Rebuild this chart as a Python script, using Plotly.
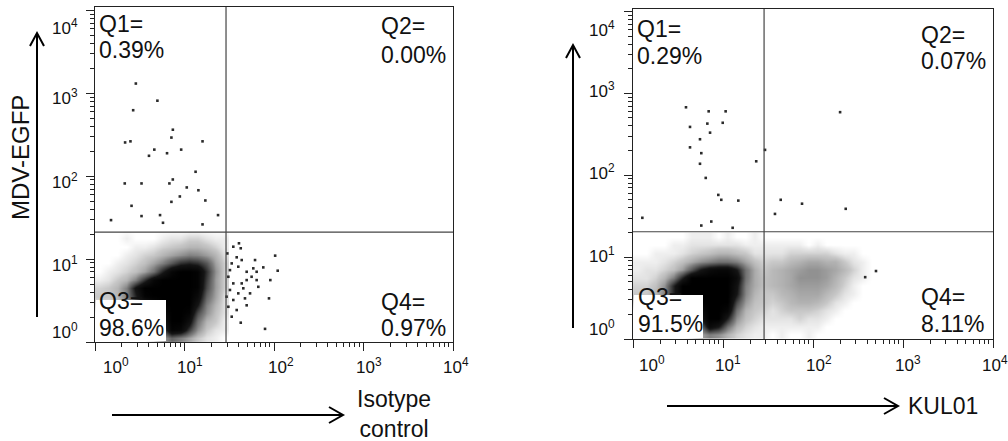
import numpy as np
import plotly.graph_objects as go

W, H = 1008, 441
FONT = "Liberation Sans, Arial, sans-serif"

# ---------------- data ----------------
# Left panel (Isotype control vs MDV-EGFP): sparse events
left_q1_x = [2.86, 4.98, 2.67, 7.41, 7.14, 2.17, 2.49, 15.9, 4.60, 9.18, 6.38, 4.01, 13.3, 2.15,
             3.31, 6.78, 7.40, 10.6, 14.3, 8.87, 7.14, 17.1, 2.56, 3.31, 5.33, 23.7, 1.51, 5.75, 15.9]
left_q1_y = [1309, 813, 624, 363, 292, 255, 263, 263, 209, 209, 189, 176, 113, 81.7,
             81.7, 81.7, 91.2, 73.1, 67.6, 56.9, 49.0, 50.9, 43.9, 33.0, 33.9, 33.9, 29.5, 27.4, 26.2]
left_q4_x = [40.6, 42.5, 103, 110, 38.3, 58.7, 49.5, 43.6, 39.9, 35.1, 49.5, 38.3, 42.5, 79.4,
             87.9, 91.0, 66.8, 32.2, 30.9, 35.1, 33.7, 49.5, 56.2, 64.0, 45.4, 54.0, 32.2, 30.9,
             33.7, 39.9, 30.1, 35.1, 75.9, 61.4, 43.6, 29.5, 47.4, 64.0]
left_q4_y = [15.5, 13.5, 11.0, 7.24, 10.5, 7.73, 5.58, 5.09, 3.86, 3.21, 2.77, 2.43, 1.71, 1.44,
             3.36, 5.58, 4.63, 7.36, 6.12, 5.09, 8.87, 7.03, 6.12, 7.03, 4.44, 3.86, 4.24, 2.66,
             2.02, 8.09, 11.7, 14.1, 7.94, 9.73, 9.73, 3.52, 3.36, 5.58]
# Left panel dense population: relative event density per 0.1-decade cell
# (rows listed from top, 10^1.3-10^1.4, down to 10^0-10^0.1; columns 10^0 ... 10^1.5)
left_density = [
    [0, 0, 0, 0, 0, 0, 0, 0, 0, 0, 0, 0, 0, 0, 0],
    [0, 0, 0, 0.03, 0, 0, 0, 0.03, 0.05, 0.05, 0.08, 0.08, 0.05, 0.03, 0.03],
    [0, 0, 0, 0, 0.03, 0.03, 0.05, 0.08, 0.1, 0.12, 0.15, 0.15, 0.12, 0.08, 0.03],
    [0, 0, 0, 0.03, 0.05, 0.08, 0.1, 0.15, 0.2, 0.25, 0.3, 0.28, 0.22, 0.15, 0.05],
    [0, 0, 0.03, 0.05, 0.08, 0.12, 0.2, 0.3, 0.45, 0.6, 0.65, 0.6, 0.45, 0.2, 0.08],
    [0, 0.03, 0.05, 0.08, 0.12, 0.2, 0.35, 0.65, 0.9, 1, 1, 0.95, 0.6, 0.25, 0.08],
    [0.03, 0.05, 0.1, 0.15, 0.3, 0.6, 0.9, 1, 1, 1, 1, 0.95, 0.55, 0.22, 0.08],
    [0.08, 0.1, 0.15, 0.3, 0.75, 1, 1, 1, 1, 1, 1, 0.95, 0.5, 0.22, 0.08],
    [0.1, 0.1, 0.15, 0.3, 0.65, 0.95, 1, 1, 1, 1, 1, 0.85, 0.4, 0.2, 0.05],
    [0.05, 0.05, 0.1, 0.2, 0.35, 0.55, 0.8, 1, 1, 1, 1, 0.7, 0.3, 0.15, 0.05],
    [0, 0, 0, 0.05, 0.1, 0.25, 0.45, 0.85, 1, 1, 0.95, 0.5, 0.25, 0.12, 0.05],
    [0, 0, 0, 0, 0.05, 0.1, 0.25, 0.7, 1, 1, 0.8, 0.35, 0.15, 0.1, 0.03],
    [0, 0, 0, 0, 0, 0.05, 0.1, 0.45, 0.95, 0.9, 0.55, 0.25, 0.1, 0.05, 0.03],
    [0, 0, 0, 0, 0, 0, 0.05, 0.2, 0.4, 0.3, 0.2, 0.1, 0.05, 0.03, 0],
]
left_gate_x, left_gate_y = 29.1, 21.1
left_labels = ["Q1=<br>0.39%", "Q2=<br>0.00%", "Q3=<br>98.6%", "Q4=<br>0.97%"]

# Right panel (KUL01 vs MDV-EGFP)
right_q1_x = [3.88, 6.93, 10.7, 4.30, 6.70, 9.93, 7.18, 5.55, 4.30, 5.74, 5.55, 23.4, 6.43,
              8.87, 9.57, 14.8, 1.27, 5.74, 7.41, 12.8]
right_q1_y = [676, 603, 603, 389, 427, 437, 331, 275, 219, 186, 138, 148, 92.7,
              57.5, 50.1, 49.0, 30.2, 24.3, 27.2, 22.8]
right_q2_x = [200, 43.8, 75.5, 37.8, 231, 29.3]
right_q2_y = [589, 50.1, 44.9, 33.7, 38.9, 204]
right_q4_x = [380, 501]
right_q4_y = [5.69, 6.76]
# rows from 10^1.2-10^1.3 down to 10^0-10^0.1; columns 10^0 ... 10^2.8
right_density = [
    [0, 0, 0, 0, 0, 0, 0.03, 0.03, 0.03, 0, 0.03, 0, 0, 0.03, 0,
     0, 0, 0, 0, 0, 0, 0, 0, 0, 0, 0, 0, 0],
    [0, 0, 0, 0, 0.03, 0.03, 0.05, 0.05, 0.05, 0.05, 0.05, 0.05, 0.03, 0.03, 0.03,
     0.03, 0.03, 0.03, 0.03, 0, 0.03, 0, 0, 0, 0, 0, 0, 0],
    [0, 0, 0.03, 0.03, 0.03, 0.05, 0.08, 0.1, 0.12, 0.15, 0.15, 0.12, 0.1, 0.05, 0.05,
     0.05, 0.05, 0.08, 0.08, 0.08, 0.08, 0.08, 0.05, 0.03, 0.03, 0, 0, 0],
    [0.03, 0.03, 0.03, 0.05, 0.08, 0.12, 0.18, 0.25, 0.3, 0.35, 0.35, 0.3, 0.2, 0.12, 0.08,
     0.1, 0.1, 0.14, 0.16, 0.19, 0.19, 0.16, 0.16, 0.1, 0.05, 0.03, 0, 0],
    [0.03, 0.05, 0.05, 0.08, 0.12, 0.22, 0.45, 0.7, 0.85, 0.9, 0.9, 0.7, 0.35, 0.18, 0.1,
     0.14, 0.16, 0.19, 0.22, 0.25, 0.25, 0.22, 0.19, 0.14, 0.08, 0.03, 0, 0],
    [0.05, 0.05, 0.08, 0.15, 0.3, 0.65, 1, 1, 1, 1, 1, 0.85, 0.35, 0.18, 0.12,
     0.14, 0.16, 0.19, 0.25, 0.25, 0.25, 0.22, 0.16, 0.1, 0.05, 0.03, 0, 0],
    [0.08, 0.08, 0.12, 0.25, 0.65, 1, 1, 1, 1, 1, 1, 0.75, 0.3, 0.18, 0.12,
     0.14, 0.16, 0.19, 0.22, 0.22, 0.22, 0.19, 0.14, 0.08, 0.03, 0, 0, 0],
    [0.1, 0.1, 0.15, 0.3, 0.65, 1, 1, 1, 1, 1, 1, 0.7, 0.28, 0.15, 0.1,
     0.1, 0.14, 0.16, 0.19, 0.19, 0.19, 0.14, 0.1, 0.05, 0.03, 0, 0, 0],
    [0.05, 0.05, 0.1, 0.15, 0.35, 0.55, 0.85, 1, 1, 1, 1, 0.5, 0.22, 0.12, 0.1,
     0.08, 0.1, 0.14, 0.16, 0.16, 0.14, 0.1, 0.05, 0.03, 0, 0, 0, 0],
    [0, 0, 0.03, 0.05, 0.1, 0.25, 0.45, 0.85, 1, 1, 0.9, 0.35, 0.15, 0.1, 0.08,
     0.05, 0.08, 0.1, 0.1, 0.1, 0.08, 0.05, 0.03, 0, 0, 0, 0, 0],
    [0, 0, 0, 0.03, 0.05, 0.1, 0.25, 0.7, 1, 1, 0.65, 0.25, 0.12, 0.08, 0.05,
     0.05, 0.05, 0.05, 0.08, 0.05, 0.05, 0.03, 0, 0, 0, 0, 0, 0],
    [0, 0, 0, 0, 0.03, 0.05, 0.1, 0.35, 0.85, 0.7, 0.35, 0.15, 0.08, 0.05, 0.03,
     0.03, 0.03, 0.03, 0.03, 0.03, 0.03, 0, 0, 0, 0, 0, 0, 0],
    [0, 0, 0, 0, 0, 0, 0.05, 0.2, 0.3, 0.25, 0.15, 0.08, 0.05, 0.03, 0.03,
     0, 0.03, 0, 0, 0.03, 0, 0, 0, 0, 0, 0, 0, 0],
]
right_gate_x, right_gate_y = 28.6, 20.4
right_labels = ["Q1=<br>0.29%", "Q2=<br>0.07%", "Q3=<br>91.5%", "Q4=<br>8.11%"]

tick_exponents = [0, 1, 2, 3, 4]
x_titles = ["Isotype<br>control", "KUL01"]
y_title = "MDV-EGFP"

# ---------------- layout geometry (pixels) ----------------
LBOX = (95, 453, 7, 342)   # left, right, top, bottom
RBOX = (633, 993, 9, 339)


def px(X):
    return X / W


def py(Y):
    return 1 - Y / H


fig = go.Figure()

DOT = dict(color="#2a2a2a", size=2.6, symbol="square")
GATE = dict(color="#444", width=1.2)
CS = [[0, "rgba(0,0,0,0)"], [0.1, "rgba(0,0,0,0.22)"], [0.3, "rgba(0,0,0,0.5)"],
      [0.7, "rgba(0,0,0,0.92)"], [1, "rgba(0,0,0,1)"]]


def add_panel(xa, ya, density, pts, gx, gy, ytop):
    z = np.array(density[::-1], dtype=float)
    nr, nc = z.shape
    xe = 10 ** (0.1 * np.arange(nc + 1))
    ye = 10 ** (0.1 * np.arange(nr + 1))
    fig.add_trace(go.Heatmap(x=xe, y=ye, z=z, colorscale=CS, zmin=0, zmax=1,
                             zsmooth="best", showscale=False, hoverinfo="skip",
                             xaxis=xa, yaxis=ya))
    for (xs, ys) in pts:
        fig.add_trace(go.Scatter(x=xs, y=ys, mode="markers", marker=DOT,
                                 xaxis=xa, yaxis=ya, hoverinfo="skip"))
    fig.add_trace(go.Scatter(x=[gx, gx], y=[1, ytop], mode="lines", line=GATE,
                             xaxis=xa, yaxis=ya, hoverinfo="skip"))
    fig.add_trace(go.Scatter(x=[1, 10 ** 4], y=[gy, gy], mode="lines", line=GATE,
                             xaxis=xa, yaxis=ya, hoverinfo="skip"))


add_panel("x", "y", left_density,
          [(left_q1_x, left_q1_y), (left_q4_x, left_q4_y)],
          left_gate_x, left_gate_y, 10 ** 4.04)
add_panel("x2", "y2", right_density,
          [(right_q1_x, right_q1_y), (right_q2_x, right_q2_y), (right_q4_x, right_q4_y)],
          right_gate_x, right_gate_y, 10 ** 4.03)

axis_common = dict(type="log", showgrid=False, zeroline=False, showline=True,
                   mirror=True, linecolor="#222", linewidth=1.4,
                   ticks="outside", ticklen=8, tickwidth=1.2, tickcolor="#222",
                   tickvals=[10 ** e for e in tick_exponents], showticklabels=False,
                   minor=dict(ticks="outside", ticklen=4, tickwidth=1, tickcolor="#222",
                              dtick="D1", showgrid=False))

fig.update_layout(
    width=W, height=H, margin=dict(l=0, r=0, t=0, b=0),
    paper_bgcolor="white", plot_bgcolor="white", showlegend=False,
    xaxis=dict(axis_common, domain=[px(LBOX[0]), px(LBOX[1])], range=[0, 4], anchor="y"),
    yaxis=dict(axis_common, domain=[py(LBOX[3]), py(LBOX[2])], range=[0, 4.04], anchor="x"),
    xaxis2=dict(axis_common, domain=[px(RBOX[0]), px(RBOX[1])], range=[0, 4], anchor="y2"),
    yaxis2=dict(axis_common, domain=[py(RBOX[3]), py(RBOX[2])], range=[0, 4.03], anchor="x2"),
)

shapes = []
# white label backgrounds behind Q3 text
for (x0, y0, x1, y1) in [(96, 300, 166, 341), (634, 295, 703, 338)]:
    shapes.append(dict(type="rect", xref="paper", yref="paper", layer="above",
                       x0=px(x0), x1=px(x1), y0=py(y1), y1=py(y0),
                       fillcolor="white", line=dict(width=0)))


def seg(pts_):
    return "M " + " L ".join(f"{px(a):.5f},{py(b):.5f}" for a, b in pts_)


ARROW = dict(color="black", width=2)
arrows = [
    [(37, 317), (37, 34)], [(30, 46), (37, 33), (44, 46)],
    [(573, 328), (573, 46)], [(566, 58), (573, 45), (580, 58)],
    [(112, 415), (342, 415)], [(329, 407), (343, 415), (329, 423)],
    [(667, 406), (897, 406)], [(884, 398), (898, 406), (884, 414)],
]
for a in arrows:
    shapes.append(dict(type="path", xref="paper", yref="paper", path=seg(a),
                       line=ARROW, layer="above"))
fig.update_layout(shapes=shapes)

ann = []


def text(X, Y, s, size=23, xanchor="left", yanchor="middle", angle=0):
    ann.append(dict(x=px(X), y=py(Y), xref="paper", yref="paper", text=s,
                    showarrow=False, xanchor=xanchor, yanchor=yanchor, textangle=angle,
                    font=dict(family=FONT, size=size, color="#111")))


def qlabel(X, Y1, Y2, s):
    a, b = s.split("<br>")
    text(X, Y1, a)
    text(X, Y2, b)


# quadrant labels
qlabel(97, 24, 50, left_labels[0])
qlabel(379, 26, 55, left_labels[1])
qlabel(97, 301, 328, left_labels[2])
qlabel(379, 302, 328, left_labels[3])
qlabel(635, 29, 56, right_labels[0])
qlabel(919, 35, 61, right_labels[1])
qlabel(636, 297, 324, right_labels[2])
qlabel(919, 297, 324, right_labels[3])

# tick labels
for e, X in zip(tick_exponents, [116, 190, 281, 369, 456]):
    text(X, 366, f"10<sup>{e}</sup>", size=17, xanchor="center")
for e, X in zip(tick_exponents, [652, 728, 819, 908, 995]):
    text(X, 364, f"10<sup>{e}</sup>", size=17, xanchor="center")
for e, Y in zip(tick_exponents, [331, 264, 181, 97, 27]):
    text(80, Y, f"10<sup>{e}</sup>", size=17, xanchor="right")
for e, Y in zip(tick_exponents, [328, 255, 172, 90, 29]):
    text(617, Y, f"10<sup>{e}</sup>", size=17, xanchor="right")

# axis titles
text(20, 158, y_title, size=24, angle=-90, xanchor="center")
text(355, 414, x_titles[0])
text(906, 406, x_titles[1])

fig.update_layout(annotations=ann)
fig.write_html("out.html", config={"displayModeBar": False},
               post_script="document.body.style.margin='0';")
